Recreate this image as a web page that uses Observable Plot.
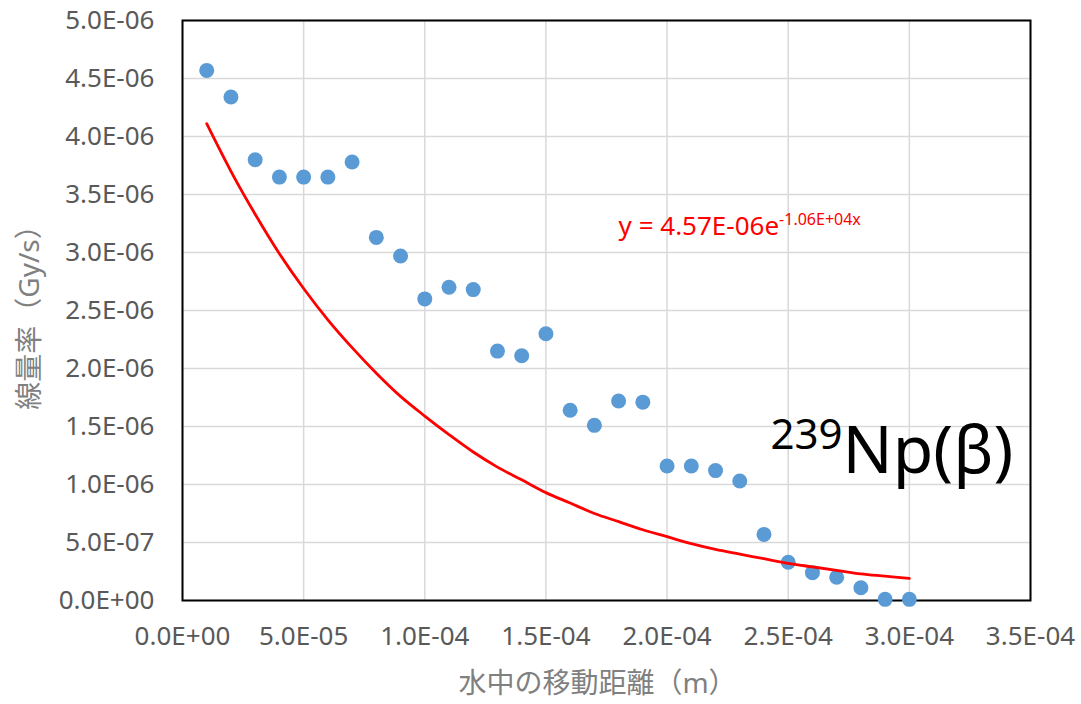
<!DOCTYPE html>
<html><head><meta charset="utf-8">
<script src="https://cdn.jsdelivr.net/npm/d3@7"></script>
<script src="https://cdn.jsdelivr.net/npm/@observablehq/plot@0.6"></script>
<style>
body{margin:0;background:#fff;}
#chart svg{display:block;}
</style>
</head><body><div id="chart"></div>
<script>
// Distance travelled in water (m)
const distance = [1e-5, 2e-5, 3e-5, 4e-5, 5e-5, 6e-5, 7e-5, 8e-5, 9e-5, 1.0e-4,
  1.1e-4, 1.2e-4, 1.3e-4, 1.4e-4, 1.5e-4, 1.6e-4, 1.7e-4, 1.8e-4, 1.9e-4, 2.0e-4,
  2.1e-4, 2.2e-4, 2.3e-4, 2.4e-4, 2.5e-4, 2.6e-4, 2.7e-4, 2.8e-4, 2.9e-4, 3.0e-4];
// Measured dose rate (Gy/s)
const doseRate = [4.57e-6, 4.34e-6, 3.80e-6, 3.65e-6, 3.65e-6, 3.65e-6, 3.78e-6, 3.13e-6, 2.97e-6, 2.60e-6,
  2.70e-6, 2.68e-6, 2.15e-6, 2.11e-6, 2.30e-6, 1.64e-6, 1.51e-6, 1.72e-6, 1.71e-6, 1.16e-6,
  1.16e-6, 1.12e-6, 1.03e-6, 0.57e-6, 0.33e-6, 0.24e-6, 0.20e-6, 0.11e-6, 0.01e-6, 0.01e-6];
// Exponential trendline (Gy/s)
const trendRate = [4.11e-6, 3.70e-6, 3.33e-6, 2.99e-6, 2.69e-6, 2.42e-6, 2.18e-6, 1.96e-6, 1.76e-6, 1.59e-6,
  1.43e-6, 1.28e-6, 1.15e-6, 1.04e-6, 0.93e-6, 0.84e-6, 0.75e-6, 0.68e-6, 0.61e-6, 0.55e-6,
  0.49e-6, 0.44e-6, 0.40e-6, 0.36e-6, 0.32e-6, 0.29e-6, 0.26e-6, 0.23e-6, 0.21e-6, 0.19e-6];

const xTicks = [0, 5e-5, 1e-4, 1.5e-4, 2e-4, 2.5e-4, 3e-4, 3.5e-4];
const xTickLabels = ["0.0E+00", "5.0E-05", "1.0E-04", "1.5E-04", "2.0E-04", "2.5E-04", "3.0E-04", "3.5E-04"];
const yTicks = [0, 5e-7, 1e-6, 1.5e-6, 2e-6, 2.5e-6, 3e-6, 3.5e-6, 4e-6, 4.5e-6, 5e-6];
const yTickLabels = ["0.0E+00", "5.0E-07", "1.0E-06", "1.5E-06", "2.0E-06", "2.5E-06", "3.0E-06", "3.5E-06", "4.0E-06", "4.5E-06", "5.0E-06"];

const xLabel = "水中の移動距離（m）";
const yLabel = "線量率（Gy/s）";
const fitMain = "y = 4.57E-06e";
const fitExp = "-1.06E+04x";
const nuclideMass = "239";
const nuclideName = "Np(β)";

const points = distance.map((d, i) => ({x: d, y: doseRate[i]}));
const trend = distance.map((d, i) => ({x: d, y: trendRate[i]}));

const tickColor = "#595959";
const labelColor = "#808080";

const plot = Plot.plot({
  width: 1081,
  height: 704,
  marginLeft: 182,
  marginRight: 51,
  marginTop: 20,
  marginBottom: 104,
  style: {fontFamily: '"Noto Sans", "Noto Sans CJK JP", sans-serif', background: "#fff"},
  x: {domain: [0, 3.5e-4], axis: null},
  y: {domain: [0, 5e-6], axis: null},
  marks: [
    Plot.gridX(xTicks, {stroke: "#d9d9d9", strokeOpacity: 1, strokeWidth: 1.5}),
    Plot.gridY(yTicks, {stroke: "#d9d9d9", strokeOpacity: 1, strokeWidth: 1.5}),
    Plot.frame({stroke: "#000", strokeWidth: 2}),
    Plot.axisX(xTicks, {tickSize: 0, tickPadding: 26, fontSize: 26, color: tickColor,
      tickFormat: d => xTickLabels[xTicks.indexOf(d)], label: null}),
    Plot.axisY(yTicks, {tickSize: 0, tickPadding: 28, fontSize: 26, color: tickColor,
      tickFormat: d => yTickLabels[yTicks.indexOf(d)], label: null}),
    Plot.dot(points, {x: "x", y: "y", r: 7.5, fill: "#5b9bd5", stroke: "none"}),
    Plot.line(trend, {x: "x", y: "y", stroke: "#ff0000", strokeWidth: 2.8, curve: "catmull-rom"}),
    Plot.text([yLabel], {frameAnchor: "left", dx: -152, rotate: -90, text: d => d,
      fontSize: 28, fill: labelColor, textAnchor: "middle"}),
    Plot.text([xLabel], {frameAnchor: "bottom", dy: 92, dx: -9, text: d => d,
      fontSize: 28, fill: labelColor, textAnchor: "middle"}),
    Plot.text([fitMain], {x: 1.8e-4, y: 3.15e-6, text: d => d, textAnchor: "start",
      lineAnchor: "bottom", fontSize: 26, fill: "#ff0000"}),
    Plot.text([nuclideMass], {x: 2.427e-4, y: 1.31e-6, text: d => d, textAnchor: "start",
      lineAnchor: "bottom", fontSize: 42, fill: "#000"})
  ]
});

const svg = d3.select(plot);
svg.selectAll("text").filter(function () { return this.textContent === fitMain; })
  .append("tspan").attr("dy", "-10").attr("font-size", 16).text(fitExp);
svg.selectAll("text").filter(function () { return this.textContent === nuclideMass; })
  .append("tspan").attr("dy", "24").attr("font-size", 66).text(nuclideName);

document.getElementById("chart").appendChild(plot);
</script>
</body></html>
